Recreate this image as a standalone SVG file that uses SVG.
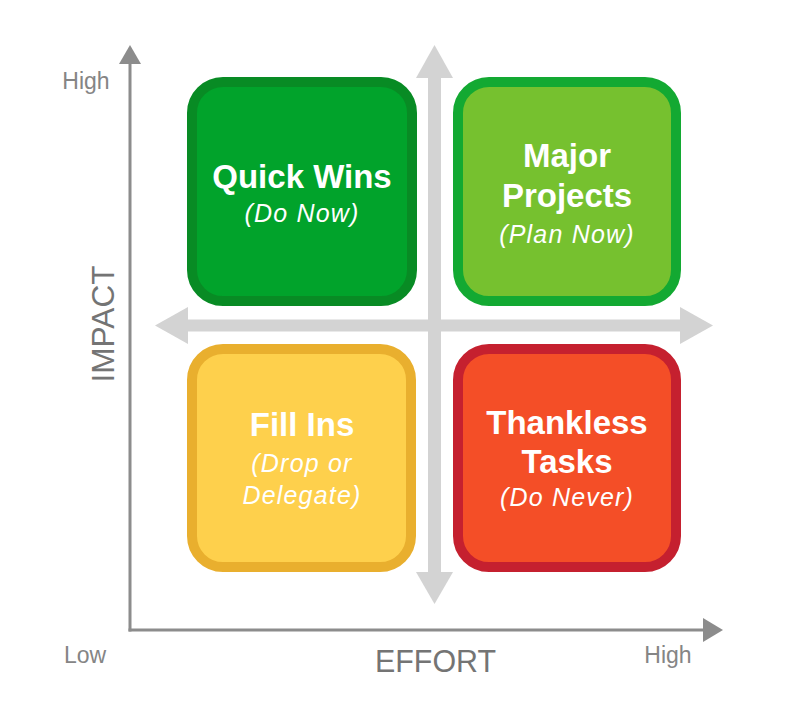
<svg xmlns="http://www.w3.org/2000/svg" width="810" height="709" viewBox="0 0 810 709">
<style>
.title{font-family:"Liberation Sans",Arial,sans-serif;font-weight:bold;font-size:33px;fill:#ffffff;text-anchor:middle}
.sub{font-family:"Liberation Sans",Arial,sans-serif;font-style:italic;font-size:25px;fill:#ffffff;text-anchor:middle;letter-spacing:1.2px}
.axl{font-family:"Liberation Sans",Arial,sans-serif;font-size:23px;fill:#858585}
.axt{font-family:"Liberation Sans",Arial,sans-serif;font-size:32px;fill:#747474}
.box{stroke-width:10}
</style>
<rect width="810" height="709" fill="#ffffff"/>
<g id="connectors">
  <!-- axes -->
  <g id="axes" fill="#8c8c8c" stroke="#8c8c8c">
    <line x1="130" y1="60" x2="130" y2="631.5" stroke-width="3"/>
    <line x1="128.5" y1="630" x2="706" y2="630" stroke-width="3"/>
    <polygon points="130,45 141,64 119,64" stroke="none"/>
    <polygon points="723,630 703,618 703,642" stroke="none"/>
  </g>
  <!-- gray cross arrows -->
  <g id="cross" fill="#d3d3d3">
    <rect x="428" y="76" width="13" height="498"/>
    <polygon points="434.5,45 453,78 416,78"/>
    <polygon points="434.5,604 453,572 416,572"/>
    <rect x="186" y="319.5" width="496" height="12"/>
    <polygon points="155,325.5 188,307 188,344"/>
    <polygon points="713,325.5 680,307 680,344"/>
  </g>
</g>
<g id="quick-wins">
  <rect class="box" x="192" y="82" width="220" height="219" rx="31" fill="#01a32b" stroke="#088b24"/>
  <text class="title" x="302" y="188">Quick Wins</text>
  <text class="sub" x="302" y="222">(Do Now)</text>
</g>
<g id="major-projects">
  <rect class="box" x="458" y="82" width="218" height="219" rx="31" fill="#76c12f" stroke="#13a932"/>
  <text class="title" x="567" y="167">Major</text>
  <text class="title" x="567" y="207">Projects</text>
  <text class="sub" x="567" y="243">(Plan Now)</text>
</g>
<g id="fill-ins">
  <rect class="box" x="192" y="349" width="219" height="218" rx="31" fill="#fed04c" stroke="#e9af2e"/>
  <text class="title" x="302" y="436">Fill Ins</text>
  <text class="sub" x="302" y="472">(Drop or</text>
  <text class="sub" x="302" y="504">Delegate)</text>
</g>
<g id="thankless-tasks">
  <rect class="box" x="458" y="349" width="218" height="218" rx="31" fill="#f44e27" stroke="#c5202f"/>
  <text class="title" x="567" y="434">Thankless</text>
  <text class="title" x="567" y="473">Tasks</text>
  <text class="sub" x="567" y="506">(Do Never)</text>
</g>
<g id="labels">
  <text class="axl" x="86" y="89" text-anchor="middle">High</text>
  <text class="axl" x="85" y="663" text-anchor="middle">Low</text>
  <text class="axl" x="668" y="663" text-anchor="middle">High</text>
  <text class="axt" x="435.5" y="672" text-anchor="middle" textLength="121" lengthAdjust="spacingAndGlyphs">EFFORT</text>
  <text class="axt" x="0" y="0" text-anchor="middle" textLength="117" lengthAdjust="spacingAndGlyphs" transform="translate(114,324) rotate(-90)">IMPACT</text>
</g>
</svg>
